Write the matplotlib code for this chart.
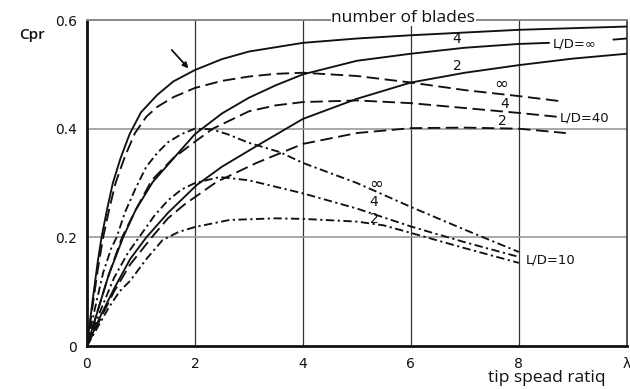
import matplotlib
matplotlib.use("Agg")
import matplotlib.pyplot as plt

plt.rcParams["lines.scale_dashes"] = False

# ideal rotor, L/D = infinity (solid)
x_inf_inf = [0, 0.1, 0.2, 0.27, 0.38, 0.48, 0.62, 0.79, 1.0, 1.3, 1.6, 2.0, 2.5, 3.0, 4.0, 5.0, 6.0, 7.0, 8.0, 9.0, 10.0]
cp_inf_inf = [0, 0.08, 0.155, 0.2, 0.255, 0.30, 0.345, 0.39, 0.43, 0.462, 0.487, 0.508, 0.528, 0.542, 0.558, 0.566, 0.572, 0.577, 0.582, 0.585, 0.588]
x_inf_4 = [0, 0.2, 0.4, 0.67, 0.9, 1.22, 1.6, 2.0, 2.5, 3.0, 3.5, 4.0, 5.0, 6.0, 7.0, 8.0, 8.56]
cp_inf_4 = [0, 0.065, 0.13, 0.2, 0.25, 0.302, 0.345, 0.39, 0.428, 0.457, 0.48, 0.50, 0.525, 0.538, 0.549, 0.556, 0.558]
x_inf_4_tail = [9.75, 10.0]
cp_inf_4_tail = [0.564, 0.566]
x_inf_2 = [0, 0.25, 0.5, 0.8, 1.1, 1.5, 2.03, 2.5, 3.14, 4.0, 5.0, 6.0, 7.0, 8.0, 9.0, 10.0]
cp_inf_2 = [0, 0.055, 0.105, 0.16, 0.2, 0.245, 0.296, 0.33, 0.368, 0.418, 0.455, 0.485, 0.503, 0.517, 0.529, 0.538]

# L/D = 40 (dashed)
x_40_inf = [0, 0.1, 0.2, 0.3, 0.42, 0.53, 0.7, 0.89, 1.1, 1.3, 1.6, 2.0, 2.5, 3.0, 3.5, 4.0, 5.0, 6.0, 7.0, 8.0, 8.74]
cp_40_inf = [0, 0.07, 0.14, 0.2, 0.255, 0.30, 0.348, 0.392, 0.422, 0.44, 0.458, 0.475, 0.488, 0.496, 0.501, 0.503, 0.497, 0.485, 0.471, 0.46, 0.451]
x_40_4 = [0, 0.2, 0.4, 0.65, 0.9, 1.2, 1.6, 2.0, 2.33, 3.0, 3.5, 4.0, 5.0, 6.0, 7.0, 8.0, 8.7]
cp_40_4 = [0, 0.065, 0.13, 0.2, 0.25, 0.305, 0.346, 0.376, 0.40, 0.432, 0.443, 0.449, 0.452, 0.447, 0.438, 0.429, 0.422]
x_40_2 = [0, 0.25, 0.5, 0.8, 1.2, 1.5, 1.8, 2.4, 3.14, 4.0, 5.0, 6.0, 7.0, 8.0, 8.87]
cp_40_2 = [0, 0.05, 0.1, 0.15, 0.2, 0.235, 0.26, 0.302, 0.337, 0.372, 0.392, 0.401, 0.402, 0.40, 0.392]

# L/D = 10 (dash-dot)
x_10_inf = [0, 0.15, 0.3, 0.45, 0.55, 0.7, 0.9, 1.1, 1.3, 1.5, 1.75, 2.0, 2.3, 2.6, 3.0, 3.57, 4.0, 5.0, 6.0, 7.0, 8.0]
cp_10_inf = [0, 0.07, 0.135, 0.18, 0.2, 0.245, 0.29, 0.33, 0.355, 0.375, 0.39, 0.40, 0.399, 0.39, 0.374, 0.357, 0.337, 0.30, 0.256, 0.214, 0.173]
x_10_4 = [0, 0.25, 0.5, 0.75, 1.0, 1.25, 1.5, 1.75, 2.0, 2.46, 3.0, 4.0, 5.0, 6.0, 7.0, 8.0]
cp_10_4 = [0, 0.065, 0.125, 0.17, 0.205, 0.24, 0.268, 0.288, 0.30, 0.311, 0.305, 0.281, 0.253, 0.22, 0.191, 0.164]
x_10_2 = [0, 0.2, 0.4, 0.6, 0.8, 1.1, 1.4, 1.7, 2.0, 2.64, 3.5, 4.0, 5.0, 5.5, 6.15, 7.0, 8.0]
cp_10_2 = [0, 0.035, 0.07, 0.1, 0.12, 0.16, 0.195, 0.21, 0.219, 0.232, 0.235, 0.234, 0.229, 0.222, 0.204, 0.18, 0.153]

x_ticks = [0, 2, 4, 6, 8, 10]
x_tick_labels = ["0", "2", "4", "6", "8", "λ"]
y_ticks = [0, 0.2, 0.4, 0.6]
y_tick_labels = ["0", "0.2", "0.4", "0.6"]

SOLID = "-"
DASHED = (0, (9, 4))
DASHDOT = (0, (6, 2.5, 1.6, 2.5))

fig = plt.figure(figsize=(6.3, 3.89), dpi=100)
ax = fig.add_axes([0.138, 0.1105, 0.857, 0.838])

curves = [
    (x_inf_inf, cp_inf_inf, SOLID),
    (x_inf_4, cp_inf_4, SOLID),
    (x_inf_4_tail, cp_inf_4_tail, SOLID),
    (x_inf_2, cp_inf_2, SOLID),
    (x_40_inf, cp_40_inf, DASHED),
    (x_40_4, cp_40_4, DASHED),
    (x_40_2, cp_40_2, DASHED),
    (x_10_inf, cp_10_inf, DASHDOT),
    (x_10_4, cp_10_4, DASHDOT),
    (x_10_2, cp_10_2, DASHDOT),
]
for xs, ys, ls in curves:
    ax.plot(xs, ys, color="#111111", lw=1.35, linestyle=ls,
            solid_capstyle="round", solid_joinstyle="round", zorder=3)

# grid
for gx in [2, 4, 6, 8]:
    ax.axvline(gx, color="#333333", lw=0.9, zorder=1)
for gy in [0.2, 0.4]:
    ax.axhline(gy, color="#999999", lw=1.2, zorder=1)

ax.set_xlim(0, 10)
ax.set_ylim(0, 0.6)
ax.set_xticks(x_ticks)
ax.set_xticklabels(x_tick_labels)
ax.set_yticks(y_ticks)
ax.set_yticklabels(y_tick_labels)
ax.tick_params(length=0, labelsize=10, colors="#111111")
ax.tick_params(axis="x", pad=8)
ax.tick_params(axis="y", pad=7)

ax.spines["left"].set_linewidth(2.0)
ax.spines["bottom"].set_linewidth(2.0)
ax.spines["left"].set_color("#111111")
ax.spines["bottom"].set_color("#111111")
ax.spines["right"].set_linewidth(1.2)
ax.spines["right"].set_color("#333333")
ax.spines["top"].set_linewidth(1.4)
ax.spines["top"].set_color("#888888")

# curve labels
lab = dict(color="#111111", fontsize=10, ha="center", va="center", zorder=4)
inf_lab = dict(lab, fontsize=12)
ax.text(6.85, 0.565, "4", **lab)
ax.text(6.86, 0.516, "2", **lab)
ax.text(7.67, 0.483, "∞", **inf_lab)
ax.text(7.73, 0.445, "4", **lab)
ax.text(7.69, 0.414, "2", **lab)
ax.text(5.36, 0.298, "∞", **inf_lab)
ax.text(5.32, 0.265, "4", **lab)
ax.text(5.32, 0.233, "2", **lab)

ld = dict(color="#111111", fontsize=9.5, ha="left", va="center", zorder=4,
          bbox=dict(facecolor="white", edgecolor="none", pad=0.5))
ax.text(8.62, 0.556, "L/D=∞", **ld)
ax.text(8.76, 0.42, "L/D=40", **ld)
ax.text(8.12, 0.158, "L/D=10", **ld)

ax.annotate("", xy=(1.88, 0.511), xytext=(1.57, 0.545),
            arrowprops=dict(arrowstyle="-|>", color="#111111", lw=1.3,
                            mutation_scale=8, shrinkA=0, shrinkB=0))

ax.text(5.86, 0.604, "number of blades", fontsize=12.5, family="Open Sans",
        ha="center", va="center", color="#111111", clip_on=False, zorder=5,
        bbox=dict(facecolor="white", edgecolor="none", pad=0.2))
fig.text(0.051, 0.91, "Cpr", fontsize=11, family="Open Sans", fontweight="semibold",
         ha="center", va="center", color="#111111")
fig.text(0.868, 0.028, "tip spead ratiq", fontsize=12.5, family="Open Sans",
         ha="center", va="center", color="#111111")

fig.savefig("out.png", dpi=100)
